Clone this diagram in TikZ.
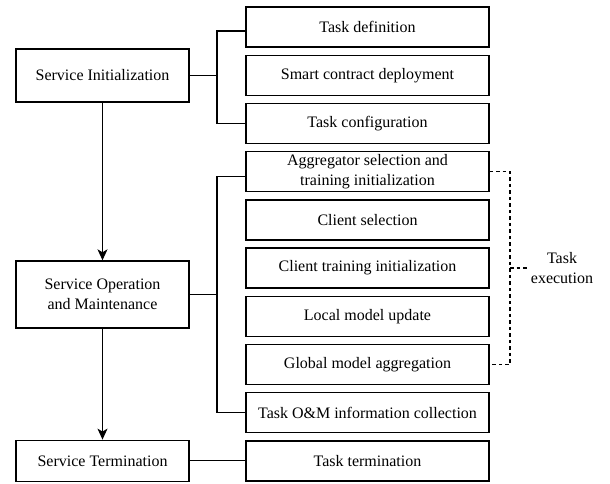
\documentclass[tikz,border=0pt]{standalone}
\usepackage{fontspec}
\setmainfont{Liberation Serif}
\usetikzlibrary{arrows.meta,positioning}

\begin{document}
\begin{tikzpicture}[x=1pt,y=-1pt,
  phase/.style={draw,line width=1.4pt,align=center,minimum width=173pt,
    inner sep=0pt,font=\fontsize{16}{20}\selectfont},
  task/.style={draw,line width=1.4pt,align=center,minimum width=243pt,
    minimum height=40pt,inner sep=0pt,font=\fontsize{16}{20}\selectfont},
  link/.style={draw,line width=1.3pt},
  flow/.style={link,-{Stealth[length=11pt,width=10pt,inset=3pt]}},
  group/.style={draw,line width=1.2pt,dash pattern=on 3.5pt off 3pt}
]
\useasboundingbox (0,0) rectangle (610,483);
% task column
\node[task] (taskdef) at (367.5,27) {Task definition};
\node[task,below=6.8pt of taskdef] (deploy) {Smart contract deployment};
\node[task,below=6.8pt of deploy] (taskconf) {Task configuration};
\node[task,below=6.8pt of taskconf] (aggsel) {Aggregator selection and\\training initialization};
\node[task,below=6.8pt of aggsel] (clisel) {Client selection};
\node[task,below=6.8pt of clisel] (clitrain) {Client training initialization};
\node[task,below=6.8pt of clitrain] (localup) {Local model update};
\node[task,below=6.8pt of localup] (globagg) {Global model aggregation};
\node[task,below=6.8pt of globagg] (taskom) {Task O\&M information collection};
\node[task,below=6.8pt of taskom] (taskend) {Task termination};
% service phases
\node[phase,minimum height=53pt] (init) at (102.5,75.5) {Service Initialization};
\node[phase,minimum height=67pt] (operate) at (102.5,294.5) {Service Operation\\and Maintenance};
\node[phase,minimum height=41pt] (terminate) at (taskend -| init) {Service Termination};
\draw[flow] (init) -- (operate);
\draw[flow] (operate) -- (terminate);
% forks
\coordinate (fork) at (217,0);
\draw[link] (init.east) -- (init.east -| fork);
\draw[link] ([yshift=-4pt]taskdef.west) -| (fork |- taskconf.west) -- (taskconf.west);
\draw[link] (operate.east) -- (operate.east -| fork);
\draw[link] ([yshift=-5pt]aggsel.west) -| (fork |- taskom.west) -- (taskom.west);
\draw[link] (terminate) -- (taskend);
% task execution group
\node[align=center,font=\fontsize{16}{20}\selectfont] (exec) at (562,268) {Task\\execution};
\coordinate (brace) at (510,0);
\draw[group] (aggsel.east) -| (brace |- globagg.east) -- (globagg.east);
\draw[group] (brace |- exec.west) -- (exec.west);
\end{tikzpicture}
\end{document}
